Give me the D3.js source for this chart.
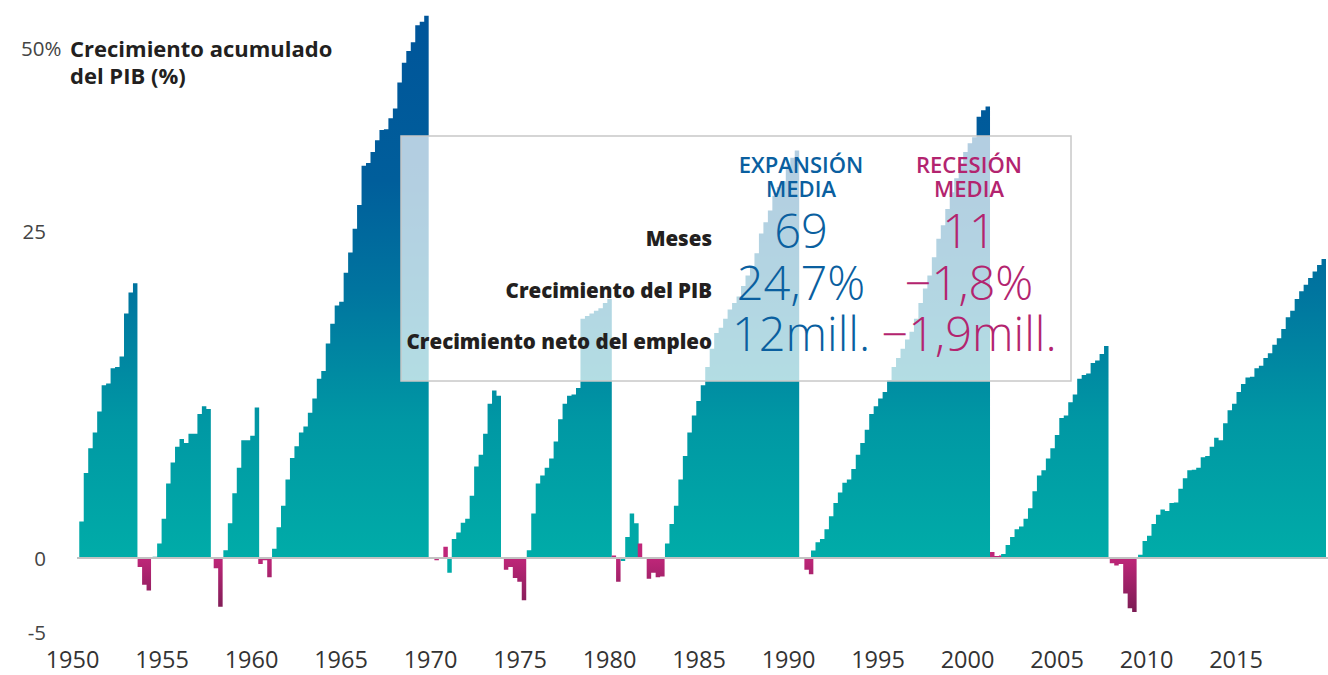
<!DOCTYPE html>
<html>
<head>
<meta charset="utf-8">
<script src="https://cdn.jsdelivr.net/npm/d3@7"></script>
<style>
  body { margin: 0; background: #fff; }
  svg { display: block; font-family: "Open Sans", "Noto Sans", "DejaVu Sans", sans-serif; }
</style>
</head>
<body>
<svg id="chart" width="1328" height="675"></svg>
<script>
// US business-cycle phases: kind, start (decimal year), cumulative real GDP growth (%) per quarter
const phaseKinds = ["exp","rec","exp","rec","exp","rec","exp","rec","exp","rec","exp",
                    "rec","exp","rec","exp","rec","exp","rec","exp","rec","exp"];
const phaseStarts = [1950.35, 1953.61, 1954.45, 1957.61, 1958.40, 1960.35, 1961.12, 1969.94,
                     1970.91, 1973.82, 1975.35, 1980.09, 1980.60, 1981.55, 1983.07, 1990.61,
                     1991.23, 2001.23, 2001.85, 2007.92, 2009.50];
const phaseValues = [
  [2.8, 6.5, 8.4, 9.6, 11.2, 13.2, 13.35, 14.5, 14.6, 15.4, 18.7, 20.3, 21.0],
  [-0.6, -1.8, -2.2],
  [0.1, 1.1, 3.0, 5.7, 7.3, 8.5, 9.1, 8.8, 9.5, 9.5, 11.0, 11.6, 11.4],
  [-0.05, -0.7, -3.3],
  [0.6, 2.65, 4.95, 6.9, 9.0, 9.0, 9.35, 11.5],
  [-0.4, -0.15, -1.3],
  [0.7, 2.35, 4.0, 6.0, 7.65, 8.55, 9.6, 10.05, 11.1, 12.2, 13.7, 14.3, 16.4, 17.9, 19.3, 19.6,
   21.8, 23.35, 25.3, 28.55, 33.9, 34.3, 35.8, 37.4, 38.8, 38.9, 40.4, 41.75, 45.3, 48.0, 49.6,
   50.8, 53.1, 53.6, 54.4],
  [-0.05, -0.15, 0.0, 0.86],
  [-1.0, 1.45, 1.95, 2.7, 3.0, 4.75, 7.0, 7.9, 9.5, 11.8, 12.8, 12.4],
  [-0.05, -0.8, -0.6, -1.35, -1.6, -2.85],
  [0.6, 3.4, 5.7, 6.3, 6.9, 7.6, 8.9, 10.6, 11.8, 12.4, 12.5, 13.0, 18.3, 18.5, 18.7, 18.9, 19.1,
   19.5, 19.8],
  [0.2, -1.6],
  [-0.2, 1.6, 3.4, 2.65],
  [1.1, -0.05, -1.4, -1.0, -1.3, -1.25],
  [1.1, 2.6, 4.0, 6.0, 7.8, 9.6, 10.9, 12.0, 13.2, 14.6, 16.0, 17.2, 17.6, 18.3, 19.0, 19.5, 20.0,
   20.8, 21.6, 22.3, 23.3, 24.8, 26.2, 27.8, 29.8, 31.0, 31.8, 33.5, 35.0, 36.0],
  [-0.05, -0.8, -1.1],
  [0.57, 1.2, 1.45, 2.2, 3.2, 4.2, 5.0, 5.75, 6.0, 6.8, 7.9, 8.8, 9.8, 11.0, 11.6, 12.2, 12.7,
   13.6, 14.6, 15.3, 16.0, 16.7, 17.3, 18.3, 19.5, 20.6, 21.6, 23.0, 24.4, 25.8, 28.0, 30.3, 32.2,
   34.2, 35.8, 37.0, 37.8, 40.6, 41.5, 42.0],
  [0.45, 0.15, 0.2],
  [0.3, 1.0, 1.6, 2.2, 2.4, 3.0, 3.8, 5.1, 6.3, 6.7, 7.6, 8.4, 9.4, 10.7, 10.9, 11.9, 12.5, 13.7,
   14.0, 14.1, 14.9, 15.1, 15.6, 16.2],
  [-0.35, -0.5, -0.4, -2.4, -3.4, -3.65],
  [0.25, 1.3, 1.7, 2.6, 3.3, 3.7, 3.6, 4.2, 4.25, 5.3, 6.1, 6.7, 6.75, 6.9, 7.7, 7.8, 8.5, 9.2,
   9.0, 10.3, 11.3, 11.8, 12.7, 13.3, 13.8, 13.85, 14.5, 14.7, 15.3, 15.65, 16.3, 16.8, 17.5,
   18.4, 18.9, 19.8, 20.4, 20.9, 21.4, 21.9, 22.4, 22.85]
];

const yTicks = [-5, 0, 25, 50];
const xTicks = [1950, 1955, 1960, 1965, 1970, 1975, 1980, 1985, 1990, 1995, 2000, 2005, 2010, 2015];

const titleLines = ["Crecimiento acumulado", "del PIB (%)"];
const columnHeads = { exp: ["EXPANSIÓN", "MEDIA"], rec: ["RECESIÓN", "MEDIA"] };
const summaryRows = ["Meses", "Crecimiento del PIB", "Crecimiento neto del empleo"];
const expansionStats = ["69", "24,7%", "12mill."];
const recessionStats = ["11", "\u22121,8%", "\u22121,9mill."];

const BLUE_TEXT = "#0a5f9f";
const MAGENTA_TEXT = "#b3246f";
const DARK_TEXT = "#231f20";

const svg = d3.select("#chart");

const x = d3.scaleLinear().domain([1950, 2020]).range([73, 1326]);
// compressed upper band above 25%
const y = d3.scaleLinear().domain([-5, 0, 25, 50]).range([632, 558, 231, 48]);

// gradients
const defs = svg.append("defs");
const gExp = defs.append("linearGradient")
  .attr("id", "expFill").attr("gradientUnits", "userSpaceOnUse")
  .attr("x1", 0).attr("x2", 0).attr("y1", y(0)).attr("y2", y(54));
[[0, "#00aca8"], [0.25, "#0098a4"], [0.5, "#00749f"], [0.7, "#005e9b"], [1, "#00559a"]]
  .forEach(([o, c]) => gExp.append("stop").attr("offset", o).attr("stop-color", c));

const gRec = defs.append("linearGradient")
  .attr("id", "recFill").attr("gradientUnits", "userSpaceOnUse")
  .attr("x1", 0).attr("x2", 0).attr("y1", y(0)).attr("y2", y(-3.7));
[[0, "#bf2679"], [1, "#7a1c53"]]
  .forEach(([o, c]) => gRec.append("stop").attr("offset", o).attr("stop-color", c));

// phase areas, quarterly steps
const area = d3.area()
  .curve(d3.curveStepAfter)
  .x(d => x(d.t))
  .y0(y(0))
  .y1(d => y(d.v));

const phases = phaseKinds.map((kind, i) => {
  const vals = phaseValues[i];
  const pts = vals.map((v, k) => ({ t: phaseStarts[i] + k * 0.25, v }));
  pts.push({ t: phaseStarts[i] + vals.length * 0.25, v: vals[vals.length - 1] });
  return { kind, pts };
});

svg.append("g").selectAll("path")
  .data(phases)
  .join("path")
  .attr("d", d => area(d.pts))
  .attr("fill", d => d.kind === "exp" ? "url(#expFill)" : "url(#recFill)");

// zero line
svg.append("line")
  .attr("x1", 77).attr("x2", 1328)
  .attr("y1", y(0)).attr("y2", y(0))
  .attr("stroke", "#c2c2c2").attr("stroke-width", 2);

// y axis
const yAxis = svg.append("g")
  .attr("transform", "translate(46,0)")
  .call(d3.axisLeft(y).tickValues(yTicks).tickSize(0).tickPadding(0)
    .tickFormat(d => d === 50 ? "50%" : String(d)));
yAxis.select(".domain").remove();
yAxis.selectAll("text")
  .attr("font-family", "'Open Sans', sans-serif")
  .attr("font-size", 20.5)
  .attr("fill", "#444")
  .attr("dy", "0.36em");
yAxis.selectAll(".tick").filter(d => d === 50).select("text")
  .attr("text-anchor", "start").attr("x", -25);

// title next to the top tick
const title = svg.append("text")
  .attr("x", 70).attr("y", 57)
  .attr("font-size", 22).attr("font-weight", 700).attr("fill", DARK_TEXT);
titleLines.forEach((line, i) =>
  title.append("tspan").attr("x", 70).attr("dy", i ? 27 : 0).text(line));

// x axis
const xAxis = svg.append("g")
  .attr("transform", "translate(-1,647)")
  .call(d3.axisBottom(x).tickValues(xTicks).tickSize(0).tickPadding(4).tickFormat(d3.format("d")));
xAxis.select(".domain").remove();
xAxis.selectAll("text")
  .attr("font-family", "'Open Sans', sans-serif")
  .attr("font-size", 23.5)
  .attr("font-weight", 500)
  .attr("fill", "#333");

// summary panel
const panel = svg.append("g");
panel.append("rect")
  .attr("x", 401).attr("y", 136).attr("width", 670).attr("height", 245)
  .attr("fill", "#fff").attr("fill-opacity", 0.7)
  .attr("stroke", "#c8c8c8").attr("stroke-width", 1.5);

const colX = { exp: 801, rec: 969 };
const rowY = [248, 300, 351];

// column headings
[["exp", BLUE_TEXT], ["rec", MAGENTA_TEXT]].forEach(([k, col]) => {
  const head = panel.append("text")
    .attr("text-anchor", "middle")
    .attr("font-size", 22).attr("font-weight", 600)
    .attr("fill", col);
  columnHeads[k].forEach((line, i) =>
    head.append("tspan").attr("x", colX[k]).attr("y", 173 + i * 24).text(line));
});

// row labels
const rowLabels = panel.append("text")
  .attr("text-anchor", "end")
  .attr("font-size", 20.5).attr("font-weight", 800)
  .attr("fill", DARK_TEXT);
summaryRows.forEach((label, i) =>
  rowLabels.append("tspan").attr("x", 712).attr("y", rowY[i] - 2).text(label));

// statistics per column
[["exp", expansionStats, BLUE_TEXT], ["rec", recessionStats, MAGENTA_TEXT]].forEach(([k, stats, col]) => {
  const block = panel.append("text")
    .attr("text-anchor", "middle")
    .attr("font-size", 47).attr("font-weight", 300)
    .attr("fill", col);
  stats.forEach((s, i) =>
    block.append("tspan").attr("x", colX[k]).attr("y", rowY[i]).text(s));
});
</script>
</body>
</html>
